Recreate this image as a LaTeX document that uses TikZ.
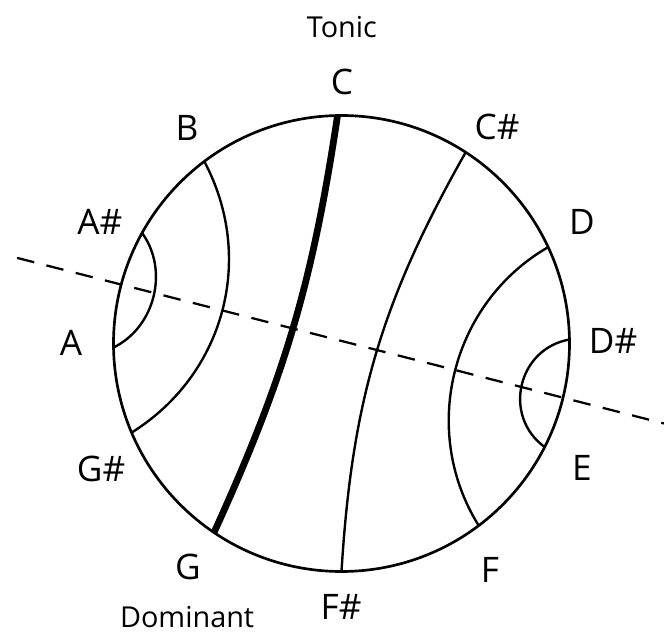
\documentclass[tikz,border=0pt]{standalone}
\usepackage{fontspec}
\setmainfont{Open Sans}

\begin{document}
\begin{tikzpicture}[
  note/.style={font=\fontsize{25}{30}\selectfont},
  role/.style={font=\fontsize{20.5}{25}\selectfont, inner sep=0pt},
  chord/.style={line width=1.7pt},
  tonal/.style={line width=4.8pt},
  axis/.style={line width=1.6pt, dash pattern=on 12.5pt off 9pt}
]
\useasboundingbox (-8.5375,-7.2375) rectangle (8.0625,8.5875);

% Pitch circle
\draw[line width=1.9pt] (0,0) circle (5.7);

% Points on the circle
\coordinate (pC)  at (91:5.7);
\coordinate (pCs) at (57:5.7);
\coordinate (pD)  at (25:5.7);
\coordinate (pDs) at (1:5.7);
\coordinate (pE)  at (-27:5.7);
\coordinate (pF)  at (-53:5.7);
\coordinate (pFs) at (-90:5.7);
\coordinate (pG)  at (-124:5.7);
\coordinate (pGs) at (-157:5.7);
\coordinate (pA)  at (181:5.7);
\coordinate (pAs) at (151:5.7);
\coordinate (pB)  at (127:5.7);

% Note labels
\node[note] (C)  at (0.01,6.54)   {C};
\node[note] (Cs) at (3.89,5.41)   {C\#};
\node[note] (D)  at (6.01,3.04)   {D};
\node[note] (Ds) at (6.79,0.06)   {D\#};
\node[note] (E)  at (6.01,-3.11)  {E};
\node[note] (F)  at (3.71,-5.66)  {F};
\node[note] (Fs) at (-0.01,-6.59) {F\#};
\node[note] (G)  at (-3.84,-5.59) {G};
\node[note] (Gs) at (-6.01,-3.14) {G\#};
\node[note] (A)  at (-6.76,0.01)  {A};
\node[note] (As) at (-6.04,3.04)  {A\#};
\node[note] (B)  at (-3.86,5.39)  {B};

% Roles
\node[role] (tonic)    at (0.01,7.92)   {Tonic};
\node[role] (dominant) at (-3.86,-6.84) {Dominant};

% Chords across the circle
\draw[tonal] (pC) to[bend left=8] (pG);
\draw[chord] (pCs) to[bend right=13] (pFs);
\draw[chord] (pB) to[bend left=43] (pGs);
\draw[chord] (pAs) to[bend left=50] (pA);
\draw[chord] (pD) to[bend right=46] (pF);
\draw[chord] (pDs) to[bend right=67, looseness=1.22] (pE);

% Axis
\coordinate (axisL) at (-8.11,2.14);
\coordinate (axisR) at (8.06,-2.0);
\draw[axis] (axisL) -- (axisR);

\end{tikzpicture}
\end{document}
